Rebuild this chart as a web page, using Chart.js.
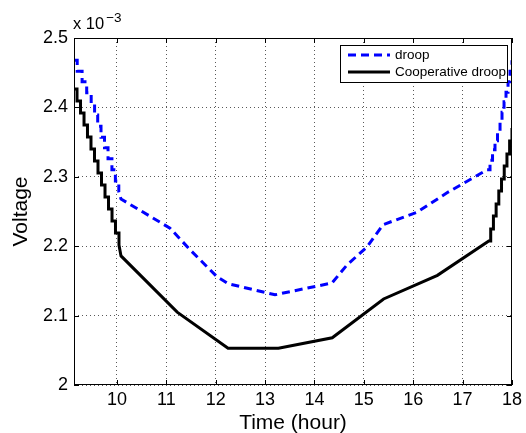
<!DOCTYPE html>
<html>
<head>
<meta charset="utf-8">
<script src="https://cdn.jsdelivr.net/npm/chart.js@4.4.1/dist/chart.umd.min.js"></script>
<style>
    html, body { margin: 0; padding: 0; background: #fff; }
    #wrap { width: 526px; height: 433px; }
</style>
</head>
<body>
<div id="wrap"><canvas id="voltageChart" width="526" height="433"></canvas></div>
<script>
// Axis ticks (voltage in units of 1e-3)
const xTicks = [10, 11, 12, 13, 14, 15, 16, 17, 18];
const yTicks = [2, 2.1, 2.2, 2.3, 2.4, 2.5];

// Droop: stepped descent, smooth middle, stepped rise
const droopHeadT = [9.13, 9.195, 9.294, 9.387, 9.478, 9.547, 9.610, 9.677, 9.748, 9.819, 9.898, 9.968, 10.037];
const droopHeadV = [2.468, 2.452, 2.437, 2.421, 2.405, 2.389, 2.373, 2.357, 2.342, 2.326, 2.310, 2.294, 2.278];
const droopMidT = [10.082, 11.074, 11.479, 12.026, 12.249, 13.201, 14.355, 14.659, 15.064, 15.388, 16.077, 16.684, 17.494];
const droopMidV = [2.268, 2.226, 2.195, 2.156, 2.146, 2.130, 2.147, 2.173, 2.199, 2.231, 2.249, 2.277, 2.310];
const droopTailT = [17.515, 17.555, 17.606, 17.656, 17.707, 17.758, 17.798, 17.839, 17.879, 17.920, 17.960, 18.0];
const droopTailV = [2.310, 2.324, 2.339, 2.352, 2.365, 2.379, 2.393, 2.408, 2.422, 2.437, 2.452, 2.468];

// Cooperative droop
const coopHeadT = [9.13, 9.191, 9.262, 9.333, 9.403, 9.474, 9.545, 9.616, 9.687, 9.758, 9.829, 9.900, 9.970, 10.041];
const coopHeadV = [2.4265, 2.4092, 2.3919, 2.3746, 2.3573, 2.3401, 2.3228, 2.3055, 2.2882, 2.2709, 2.2536, 2.2363, 2.2190, 2.2017];
const coopMidT = [10.082, 11.22, 12.25, 13.27, 14.36, 15.40, 16.49, 17.53];
const coopMidV = [2.186, 2.105, 2.053, 2.053, 2.068, 2.124, 2.158, 2.2075];
const coopTailT = [17.53, 17.569, 17.624, 17.679, 17.733, 17.788, 17.843, 17.898, 17.952, 18.0];
const coopTailV = [2.2075, 2.2248, 2.2435, 2.2608, 2.2795, 2.2968, 2.3156, 2.3329, 2.3516, 2.3703];

const seriesNames = ['droop', 'Cooperative droop'];

// stair corners: hold each level until the next sample time
function stairs(ts, vs) {
    const pts = [];
    for (let i = 0; i < ts.length; i++) {
        pts.push({ x: ts[i], y: vs[i] });
        if (i + 1 < ts.length) pts.push({ x: ts[i + 1], y: vs[i] });
    }
    return pts;
}

function straight(ts, vs) {
    return ts.map((t, i) => ({ x: t, y: vs[i] }));
}

const droopData = stairs(droopHeadT, droopHeadV)
    .concat(straight(droopMidT, droopMidV))
    .concat(stairs(droopTailT, droopTailV));
const coopData = stairs(coopHeadT, coopHeadV)
    .concat(straight(coopMidT, coopMidV))
    .concat(stairs(coopTailT, coopTailV));

const FONT = 'Liberation Sans, Arial, Helvetica, sans-serif';

// box, inward ticks, exponent label and legend
const matlabAxes = {
    id: 'matlabAxes',
    afterDraw(chart) {
        const ctx = chart.ctx;
        const a = chart.chartArea;
        const xs = chart.scales.x, ys = chart.scales.y;
        ctx.save();
        ctx.strokeStyle = '#000';
        ctx.lineWidth = 1;
        ctx.strokeRect(a.left + 0.5, a.top + 0.5, a.right - a.left - 1, a.bottom - a.top - 1);

        ctx.beginPath();
        const tl = 5;
        xTicks.forEach(v => {
            const px = Math.round(xs.getPixelForValue(v)) + 0.5;
            ctx.moveTo(px, a.bottom); ctx.lineTo(px, a.bottom - tl);
            ctx.moveTo(px, a.top); ctx.lineTo(px, a.top + tl);
        });
        yTicks.forEach(v => {
            const py = Math.round(ys.getPixelForValue(v)) + 0.5;
            ctx.moveTo(a.left, py); ctx.lineTo(a.left + tl, py);
            ctx.moveTo(a.right, py); ctx.lineTo(a.right - tl, py);
        });
        ctx.stroke();

        // x 10^-3
        ctx.fillStyle = '#000';
        ctx.textBaseline = 'alphabetic';
        ctx.textAlign = 'left';
        ctx.font = '16.5px ' + FONT;
        ctx.fillText('x 10', a.left - 1, 29);
        const w = ctx.measureText('x 10').width;
        ctx.font = '13.5px ' + FONT;
        ctx.fillText('\u22123', a.left + w + 1, 22);

        // legend
        const lx = 340, ly = 45, lw = 167, lh = 37;
        ctx.fillStyle = '#fff';
        ctx.fillRect(lx, ly, lw, lh);
        ctx.strokeRect(lx + 0.5, ly + 0.5, lw, lh);
        const rows = [
            { y: 55, color: '#0000ff', dash: [8, 5] },
            { y: 72, color: '#000', dash: [] }
        ];
        rows.forEach((r, i) => {
            ctx.beginPath();
            ctx.lineWidth = 3;
            ctx.strokeStyle = r.color;
            ctx.setLineDash(r.dash);
            ctx.moveTo(348, r.y);
            ctx.lineTo(390, r.y);
            ctx.stroke();
            ctx.setLineDash([]);
            ctx.fillStyle = '#000';
            ctx.font = '13.5px ' + FONT;
            ctx.textBaseline = 'middle';
            ctx.fillText(seriesNames[i], 395, r.y);
        });
        ctx.restore();
    }
};

const ctx = document.getElementById('voltageChart').getContext('2d');
new Chart(ctx, {
    type: 'line',
    data: {
        datasets: [
            {
                label: seriesNames[0],
                data: droopData,
                borderColor: '#0000ff',
                borderWidth: 3,
                borderDash: [8, 5],
                pointRadius: 0,
                tension: 0,
                fill: false
            },
            {
                label: seriesNames[1],
                data: coopData,
                borderColor: '#000000',
                borderWidth: 3,
                pointRadius: 0,
                tension: 0,
                fill: false
            }
        ]
    },
    options: {
        responsive: false,
        animation: false,
        events: [],
        layout: { padding: { top: 38, right: 14, left: 0, bottom: 0 } },
        plugins: {
            legend: { display: false },
            tooltip: { enabled: false }
        },
        scales: {
            x: {
                type: 'linear',
                min: 9.13,
                max: 18,
                afterBuildTicks: scale => { scale.ticks = xTicks.map(v => ({ value: v })); },
                afterFit: scale => { scale.height = 48; },
                ticks: {
                    color: '#000',
                    font: { family: FONT, size: 18 },
                    padding: 4,
                    maxRotation: 0,
                    autoSkip: false
                },
                grid: { color: 'rgba(0,0,0,0.65)', lineWidth: 1, drawTicks: false },
                border: { display: false, dash: [1, 3] },
                title: {
                    display: true,
                    text: 'Time (hour)',
                    color: '#000',
                    font: { family: FONT, size: 21 },
                    padding: { top: 0, bottom: -3 }
                }
            },
            y: {
                type: 'linear',
                min: 2,
                max: 2.5,
                afterBuildTicks: scale => { scale.ticks = yTicks.map(v => ({ value: v })); },
                afterFit: scale => { scale.width = 74; },
                ticks: {
                    color: '#000',
                    font: { family: FONT, size: 18 },
                    padding: 6,
                    callback: v => String(Number(v.toFixed(1)))
                },
                grid: { color: 'rgba(0,0,0,0.65)', lineWidth: 1, drawTicks: false },
                border: { display: false, dash: [1, 3] },
                title: {
                    display: true,
                    text: 'Voltage',
                    color: '#000',
                    font: { family: FONT, size: 21 },
                    padding: { top: 9, bottom: 0 }
                }
            }
        }
    },
    plugins: [matlabAxes]
});
</script>
</body>
</html>
